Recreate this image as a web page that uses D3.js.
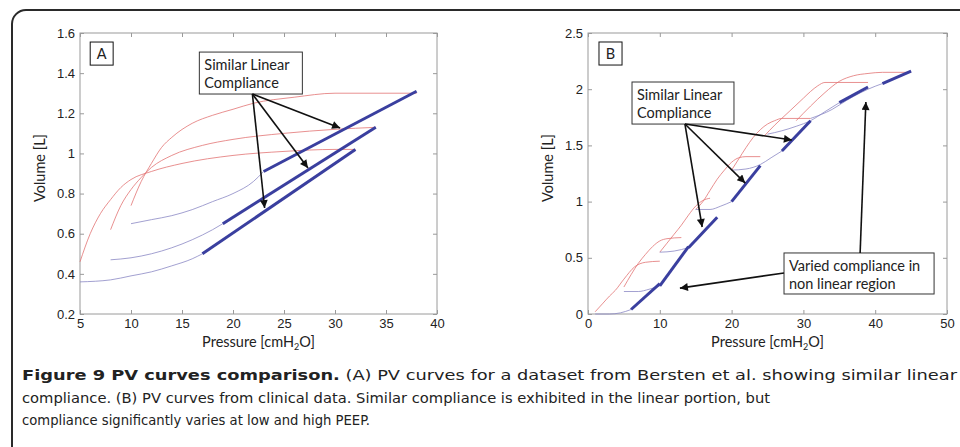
<!DOCTYPE html>
<html>
<head>
<meta charset="utf-8">
<script src="https://cdn.jsdelivr.net/npm/d3@7"></script>
<style>
  body { margin: 0; background: #fff; }
  svg { display: block; }
  .lbl { font-family: Lato, "Open Sans", sans-serif; font-size: 14.5px; fill: #222; }
  .cap { font-family: "DejaVu Sans Condensed", "Roboto", sans-serif; font-stretch: condensed; font-size: 14.5px; fill: #222; }
</style>
</head>
<body>
<div id="chart"></div>
<script>
// ---- panel A data (Pressure cmH2O, Volume L) ----
const ticksAX = [5, 10, 15, 20, 25, 30, 35, 40];
const ticksAY = [0.2, 0.4, 0.6, 0.8, 1, 1.2, 1.4, 1.6];
const redA = [
  [[5, 0.46], [6, 0.6], [7, 0.7], [8, 0.77], [9, 0.83], [10, 0.87], [12, 0.91], [15, 0.95], [20, 0.99], [25, 1.01], [30, 1.02], [32, 1.02]],
  [[8, 0.62], [9, 0.74], [10, 0.82], [11, 0.88], [12, 0.93], [14, 0.99], [17, 1.04], [20, 1.07], [25, 1.1], [30, 1.12], [34, 1.13]],
  [[10, 0.74], [11, 0.86], [12, 0.95], [13, 1.03], [14, 1.08], [16, 1.15], [18, 1.19], [20, 1.22], [22, 1.25], [26, 1.28], [30, 1.3], [38, 1.3]]
];
const blueThinA = [
  [[5, 0.36], [8, 0.37], [10, 0.39], [12, 0.41], [14, 0.44], [16, 0.475], [17, 0.5]],
  [[8, 0.47], [10, 0.48], [12, 0.5], [14, 0.53], [16, 0.57], [18, 0.62], [19, 0.65]],
  [[10, 0.65], [12, 0.67], [14, 0.69], [16, 0.72], [18, 0.76], [20, 0.8], [22, 0.86], [23, 0.91]]
];
const blueThickA = [
  [[17, 0.5], [32, 1.02]],
  [[19, 0.65], [34, 1.13]],
  [[23, 0.91], [38, 1.31]]
];

// ---- panel B data ----
const ticksBX = [0, 10, 20, 30, 40, 50];
const ticksBY = [0, 0.5, 1, 1.5, 2, 2.5];
const redB = [
  [[1, 0.02], [2, 0.09], [3, 0.16], [3.8, 0.21], [5, 0.31], [6.5, 0.42], [8, 0.46], [10, 0.47]],
  [[5, 0.24], [6, 0.35], [7, 0.45], [8, 0.53], [9, 0.6], [10, 0.65], [11, 0.67], [13, 0.68]],
  [[10, 0.55], [11, 0.63], [12, 0.71], [13, 0.79], [14, 0.88], [15, 0.96], [16, 1.01], [17, 1.03]],
  [[15, 0.93], [16, 1.0], [17, 1.1], [18, 1.2], [19, 1.28], [20, 1.35], [21, 1.39], [22, 1.4], [24, 1.4]],
  [[20, 1.28], [21, 1.38], [22, 1.48], [23, 1.57], [24, 1.64], [25, 1.69], [26, 1.72], [27, 1.74], [31, 1.74]],
  [[24.5, 1.58], [26, 1.68], [28, 1.8], [30, 1.92], [31, 1.98], [32, 2.03], [33, 2.06], [39, 2.06]],
  [[29, 1.72], [31, 1.85], [33, 1.97], [35, 2.07], [37, 2.12], [39, 2.14], [41, 2.15], [45, 2.15]]
];
const blueThinB = [
  [[1, 0], [3, 0], [4.5, 0.01], [6, 0.04]],
  [[5, 0.2], [7, 0.2], [8.5, 0.22], [10, 0.25]],
  [[10, 0.55], [12, 0.56], [14, 0.59]],
  [[15, 0.93], [17, 0.93], [18.5, 0.96], [20, 1.0]],
  [[20, 1.28], [22, 1.29], [24, 1.33], [25.5, 1.39], [27, 1.45]],
  [[25, 1.6], [27, 1.63], [29, 1.67], [31, 1.72], [33, 1.8], [35, 1.88]],
  [[31, 1.74], [34, 1.82], [36, 1.9], [38, 1.97], [39, 2.0], [41, 2.05]]
];
const blueThickB = [
  [[6, 0.04], [10, 0.27]],
  [[10, 0.25], [14, 0.6]],
  [[14, 0.59], [18, 0.86]],
  [[20, 1.0], [24, 1.32]],
  [[27, 1.45], [31, 1.72]],
  [[35, 1.88], [39, 2.02]],
  [[41, 2.05], [45, 2.16]]
];

// annotations (data units)
const notesA = {
  letter: { text: "A", x0: 6.0, x1: 8.25, y0: 1.555, y1: 1.44 },
  boxes: [{ lines: ["Similar Linear", "Compliance"], x0: 16.7, x1: 26.8, y0: 1.505, y1: 1.296 }],
  arrows: [
    { from: [21.9, 1.296], to: [30.5, 1.127] },
    { from: [21.9, 1.296], to: [27.35, 0.927] },
    { from: [21.9, 1.296], to: [23.1, 0.728] }
  ]
};
const notesB = {
  letter: { text: "B", x0: 1.53, x1: 4.74, y0: 2.42, y1: 2.215 },
  boxes: [
    { lines: ["Similar Linear", "Compliance"], x0: 6.13, x1: 20.33, y0: 2.064, y1: 1.69 },
    { lines: ["Varied compliance in", "non linear region"], x0: 27.3, x1: 48.2, y0: 0.543, y1: 0.178 }
  ],
  arrows: [
    { from: [13.5, 1.69], to: [15.9, 0.774] },
    { from: [13.5, 1.69], to: [21.9, 1.165] },
    { from: [13.5, 1.69], to: [28.4, 1.548] },
    { from: [37.9, 0.543], to: [38.7, 1.886] },
    { from: [27.3, 0.365], to: [12.8, 0.23] }
  ]
};

const width = 960, height = 447;
const svg = d3.select("#chart").append("svg")
    .attr("width", width)
    .attr("height", height);

svg.append("defs").append("marker")
    .attr("id", "head")
    .attr("viewBox", "0 0 10 10")
    .attr("refX", 10).attr("refY", 5)
    .attr("markerUnits", "userSpaceOnUse")
    .attr("markerWidth", 11).attr("markerHeight", 8)
    .attr("orient", "auto")
    .append("path")
    .attr("d", "M0,0 L10,5 L0,10 z")
    .attr("fill", "#111");

// outer frame, runs off the right and bottom
svg.append("rect")
    .attr("x", 12).attr("y", 10)
    .attr("width", 990).attr("height", 480)
    .attr("rx", 14)
    .attr("fill", "none")
    .attr("stroke", "#2a2a2a")
    .attr("stroke-width", 2);

function drawPanel(cfg) {
    const x = d3.scaleLinear().domain(cfg.xDomain).range(cfg.xRange);
    const y = d3.scaleLinear().domain(cfg.yDomain).range([314, 33]);
    const fmt = d => String(+d.toFixed(1));
    const g = svg.append("g");

    g.append("rect")
        .attr("x", x.range()[0]).attr("y", 33)
        .attr("width", x.range()[1] - x.range()[0]).attr("height", 281)
        .attr("fill", "none").attr("stroke", "#9a9a9a");

    // ticks inward on all four sides
    const axes = [
        [d3.axisBottom(x).tickValues(cfg.xTicks).tickFormat(fmt), `translate(0,314)`],
        [d3.axisLeft(y).tickValues(cfg.yTicks).tickFormat(fmt), `translate(${x.range()[0]},0)`],
        [d3.axisTop(x).tickValues(cfg.xTicks).tickFormat(""), `translate(0,33)`],
        [d3.axisRight(y).tickValues(cfg.yTicks).tickFormat(""), `translate(${x.range()[1]},0)`]
    ];
    axes.forEach(([ax, tr]) => {
        const a = g.append("g").attr("transform", tr)
            .call(ax.tickSizeInner(-4).tickSizeOuter(0).tickPadding(5));
        a.attr("font-family", "'Liberation Sans', Arial, sans-serif").attr("font-size", 13);
        a.select(".domain").remove();
        a.selectAll(".tick line").attr("stroke", "#9a9a9a");
        a.selectAll(".tick text").attr("fill", "#222");
    });

    const line = d3.line().x(d => x(d[0])).y(d => y(d[1])).curve(d3.curveMonotoneX);

    g.selectAll(".red").data(cfg.red).join("path")
        .attr("d", line).attr("fill", "none")
        .attr("stroke", "#e27474").attr("stroke-width", 0.8);
    g.selectAll(".thin").data(cfg.thin).join("path")
        .attr("d", line).attr("fill", "none")
        .attr("stroke", "#8a88c4").attr("stroke-width", 0.8);
    g.selectAll(".thick").data(cfg.thick).join("path")
        .attr("d", line).attr("fill", "none")
        .attr("stroke", "#3a3f9f").attr("stroke-width", 3);

    // axis titles
    const cx = (x.range()[0] + x.range()[1]) / 2;
    const xl = g.append("text").attr("class", "lbl")
        .attr("x", cx).attr("y", 347).attr("text-anchor", "middle");
    xl.append("tspan").text("Pressure [cmH");
    xl.append("tspan").attr("font-size", "9px").attr("dy", 3).text("2");
    xl.append("tspan").attr("dy", -3).text("O]");
    g.append("text").attr("class", "lbl")
        .attr("transform", `translate(${x.range()[0] - 35},168) rotate(-90)`)
        .attr("text-anchor", "middle")
        .text("Volume [L]");

    // annotations
    const n = cfg.notes;
    g.append("rect")
        .attr("x", x(n.letter.x0)).attr("y", y(n.letter.y0))
        .attr("width", x(n.letter.x1) - x(n.letter.x0))
        .attr("height", y(n.letter.y1) - y(n.letter.y0))
        .attr("fill", "#fff").attr("stroke", "#111");
    g.append("text").attr("class", "lbl")
        .attr("x", (x(n.letter.x0) + x(n.letter.x1)) / 2)
        .attr("y", (y(n.letter.y0) + y(n.letter.y1)) / 2 + 5)
        .attr("text-anchor", "middle").text(n.letter.text);

    n.boxes.forEach(b => {
        g.append("rect")
            .attr("x", x(b.x0)).attr("y", y(b.y0))
            .attr("width", x(b.x1) - x(b.x0)).attr("height", y(b.y1) - y(b.y0))
            .attr("fill", "#fff").attr("stroke", "#333");
        b.lines.forEach((t, i) => {
            g.append("text").attr("class", "lbl")
                .attr("x", x(b.x0) + 5).attr("y", y(b.y0) + 18 + i * 18)
                .text(t);
        });
    });

    n.arrows.forEach(a => {
        g.append("line")
            .attr("x1", x(a.from[0])).attr("y1", y(a.from[1]))
            .attr("x2", x(a.to[0])).attr("y2", y(a.to[1]))
            .attr("stroke", "#111").attr("stroke-width", 1.6)
            .attr("marker-end", "url(#head)");
    });
}

drawPanel({
    xDomain: [5, 40], xRange: [80, 437], yDomain: [0.2, 1.6],
    xTicks: ticksAX, yTicks: ticksAY,
    red: redA, thin: blueThinA, thick: blueThickA, notes: notesA
});
drawPanel({
    xDomain: [0, 50], xRange: [588, 947], yDomain: [0, 2.5],
    xTicks: ticksBX, yTicks: ticksBY,
    red: redB, thin: blueThinB, thick: blueThickB, notes: notesB
});

// caption
const cap1 = svg.append("text").attr("class", "cap")
    .attr("x", 22).attr("y", 380)
    .attr("textLength", 935).attr("lengthAdjust", "spacingAndGlyphs");
cap1.append("tspan").attr("font-weight", "bold").text("Figure 9 PV curves comparison.");
cap1.append("tspan").text(" (A) PV curves for a dataset from Bersten et al. showing similar linear");
svg.append("text").attr("class", "cap")
    .attr("x", 22).attr("y", 403)
    .attr("textLength", 748).attr("lengthAdjust", "spacingAndGlyphs")
    .text("compliance. (B) PV curves from clinical data. Similar compliance is exhibited in the linear portion, but");
svg.append("text").attr("class", "cap")
    .attr("x", 22).attr("y", 425)
    .attr("textLength", 348).attr("lengthAdjust", "spacingAndGlyphs")
    .text("compliance significantly varies at low and high PEEP.");
</script>
</body>
</html>
